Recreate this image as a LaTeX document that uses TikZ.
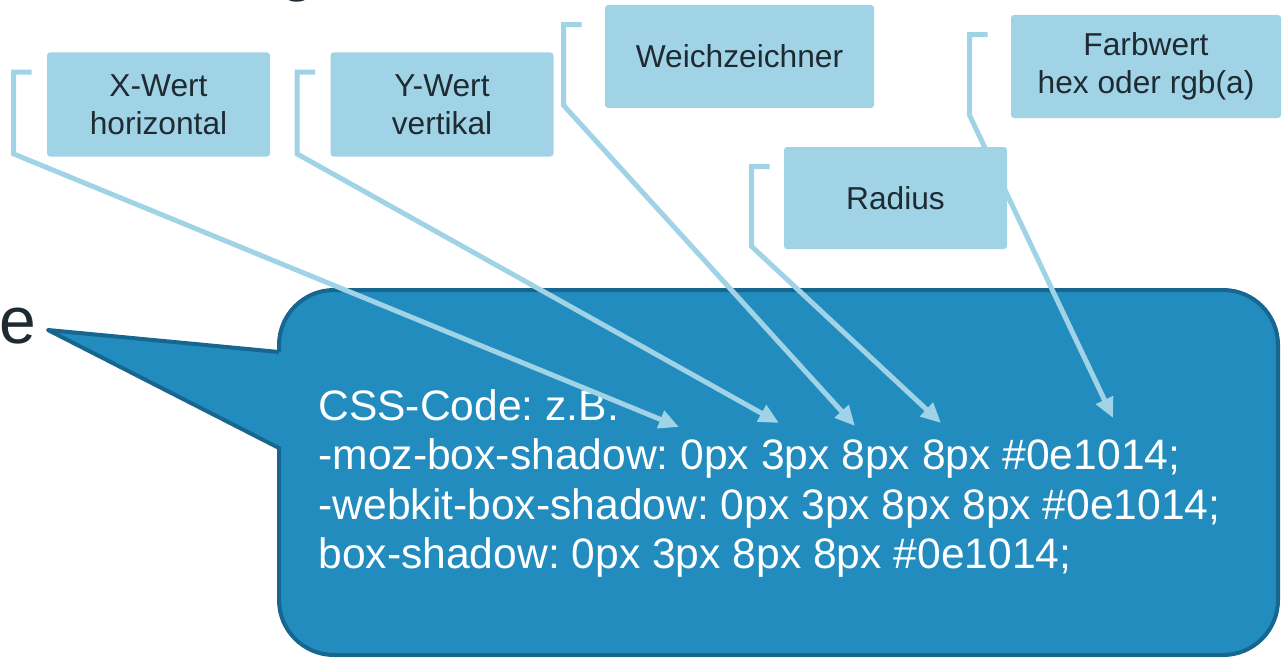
\documentclass[tikz,border=0pt]{standalone}
\usepackage{fontspec}
\setmainfont{Liberation Sans}
\usetikzlibrary{arrows.meta,backgrounds}
\frenchspacing

\definecolor{labelblue}{HTML}{A1D3E7}
\definecolor{bubbleblue}{HTML}{228CBF}
\definecolor{bubbleedge}{HTML}{17668F}
\definecolor{inkdark}{HTML}{1E2B33}

\tikzset{
  labelbox/.style={fill=labelblue, rounded corners=1.5pt, minimum width=111.5pt,
    minimum height=52pt, align=center, text=inkdark, inner sep=0pt,
    font=\fontsize{15.85}{19}\selectfont},
  pointer/.style={draw=labelblue, line width=2.5pt, -{Triangle[length=10pt,width=9pt]}},
  bubble/.style={draw=bubbleedge, fill=bubbleblue, line width=2pt, outer sep=0pt, inner sep=0pt},
}

\begin{document}
\begin{tikzpicture}[x=0.5pt, y=-0.5pt]
  \useasboundingbox (0,0) rectangle (1283,658);
  \clip (0,0) rectangle (1283,658);

  % Fragments of the slide text
  \node[anchor=base west, inner sep=0pt, text=inkdark, font=\fontsize{33}{40}\selectfont] (title) at (279,-11) {g};
  \node[anchor=base west, inner sep=0pt, text=inkdark, font=\fontsize{33}{40}\selectfont] (word) at (-1,343) {e};

  % Label boxes
  \node[labelbox] (xwert) at (158.5,104.5) {X-Wert\\horizontal};
  \node[labelbox] (ywert) at (442,104.5) {Y-Wert\\vertikal};
  \node[labelbox, minimum width=134.5pt, minimum height=51.5pt] (blur) at (739.5,56.5) {Weichzeichner};
  \node[labelbox, minimum height=51pt] (radius) at (895.5,198) {Radius};
  \node[labelbox, minimum width=135pt, minimum height=51.5pt] (farbe) at (1146,66.5) {Farbwert\\hex oder rgb(a)};

  % Speech bubble with the code
  \begin{scope}[on background layer]
    \node[bubble, rounded corners=27.5pt, minimum width=499.5pt, minimum height=182.5pt] (box) at (778.5,472.5) {};
    \coordinate (speaker) at (48,330);
    \coordinate (base-a) at ([yshift=-31pt]box.north west);
    \coordinate (base-b) at ([yshift=-79pt]box.north west);
    \fill[bubbleblue] (speaker) -- ([xshift=2pt]base-a) -- ([xshift=2pt]base-b) -- cycle;
    \draw[bubbleedge, line width=2pt, line join=round] (base-a) -- (speaker) -- (base-b);
    \node[anchor=north west, inner sep=0pt, align=left, text=white,
      font=\fontsize{21.3}{24.75}\selectfont] (code) at (318,389) {CSS-Code: z.B.\\
      -moz-box-shadow: 0px 3px 8px 8px \#0e1014;\\
      -webkit-box-shadow: 0px 3px 8px 8px \#0e1014;\\
      box-shadow: 0px 3px 8px 8px \#0e1014;};
  \end{scope}

  % Arrow targets above the values
  \coordinate (tip-xwert) at (679,427);
  \coordinate (tip-ywert) at (779,423);
  \coordinate (tip-blur) at (855,426);
  \coordinate (tip-radius) at (941,423);
  \coordinate (tip-farbe) at (1113,418);

  % Bracket connectors
  \begin{scope}[on background layer]
    \foreach \b/\off in {xwert/16.5, ywert/16.5, blur/20.5, radius/16, farbe/20.5} {
        \draw[pointer] ([xshift=-\off pt+9pt,yshift=-10pt]\b.north west) -- ([xshift=-\off pt,yshift=-10pt]\b.north west)
          -- ([xshift=-\off pt,yshift=1.5pt]\b.south west) -- (tip-\b);
      }
  \end{scope}
\end{tikzpicture}
\end{document}
